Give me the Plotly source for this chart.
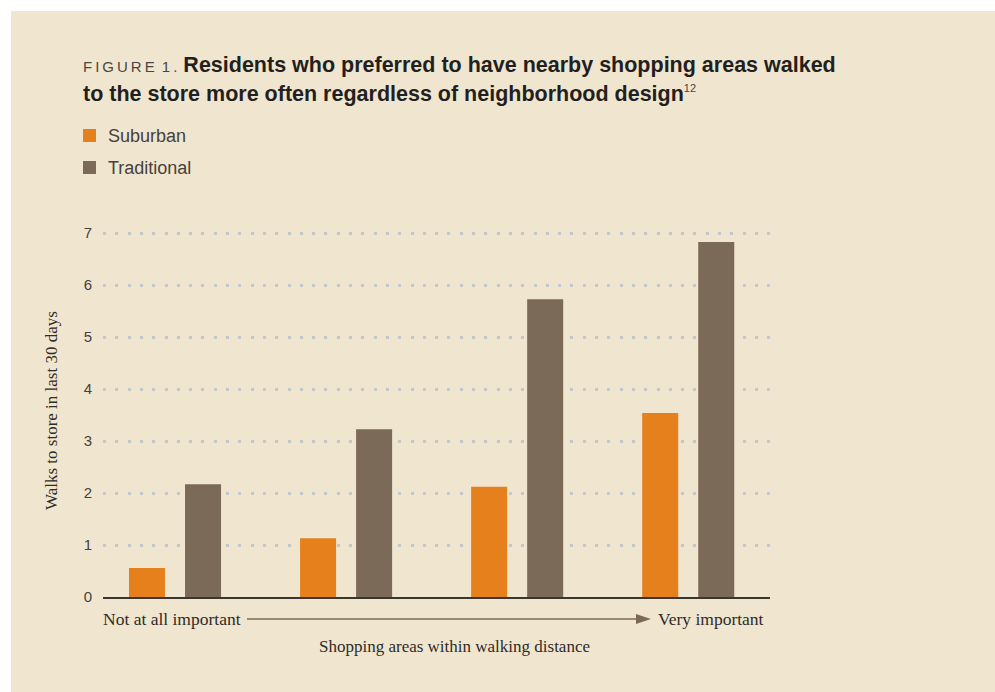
import plotly.graph_objects as go

# ---- data ----
importance_levels = [0, 1, 2, 3]
series_names = ["Suburban", "Traditional"]
suburban = [0.56, 1.13, 2.12, 3.54]
traditional = [2.17, 3.23, 5.73, 6.83]
y_ticks = [0, 1, 2, 3, 4, 5, 6, 7]
x_low_label = "Not at all important"
x_high_label = "Very important"
x_title = "Shopping areas within walking distance"
y_title = "Walks to store in last 30 days"

# ---- style ----
BEIGE = "#f0e6cf"
ORANGE = "#e5801d"
BROWN = "#7b6a57"
GRID = "#c4c8ca"
AXIS = "#3a3632"
SANS = "Liberation Sans, Arial, sans-serif"
SERIF = "Liberation Serif, Times New Roman, serif"

W, H = 995, 692
L, R, T, B = 103, 770, 215, 597  # plot area in pixels
PW, PH = R - L, B - T

def px(x):
    return (x - L) / PW

def py(y):
    return (B - y) / PH

fig = go.Figure()
fig.add_trace(go.Bar(x=importance_levels, y=suburban, name=series_names[0],
                     marker=dict(color=ORANGE, line=dict(width=0)), showlegend=False))
fig.add_trace(go.Bar(x=importance_levels, y=traditional, name=series_names[1],
                     marker=dict(color=BROWN, line=dict(width=0)), showlegend=False))

shapes = [
    # beige card
    dict(type="rect", xref="paper", yref="paper", x0=px(11), x1=px(W + 5),
         y0=py(H + 5), y1=py(11), fillcolor=BEIGE, line=dict(width=0), layer="below"),
    # legend swatches
    dict(type="rect", xref="paper", yref="paper", x0=px(83), x1=px(96),
         y0=py(142), y1=py(129), fillcolor=ORANGE, line=dict(width=0)),
    dict(type="rect", xref="paper", yref="paper", x0=px(83), x1=px(96),
         y0=py(174), y1=py(161), fillcolor=BROWN, line=dict(width=0)),
    # arrow line + head
    dict(type="line", xref="paper", yref="paper", x0=px(247), x1=px(640),
         y0=py(619), y1=py(619), line=dict(color=BROWN, width=1.5)),
    dict(type="path", xref="paper", yref="paper",
         path=f"M {px(636)} {py(614)} L {px(651)} {py(619)} L {px(636)} {py(624)} Z",
         fillcolor=BROWN, line=dict(width=0)),
]

annotations = [
    dict(xref="paper", yref="paper", x=px(81), y=py(65), xanchor="left", yanchor="middle",
         showarrow=False, align="left",
         text="<span style='font-size:15px;color:#4a4643'>F\u2009I\u2009G\u2009U\u2009R\u2009E\u2009 1\u2009.</span> "
              "<b>Residents who preferred to have nearby shopping areas walked</b>",
         font=dict(family=SANS, size=21.5, color="#231f20")),
    dict(xref="paper", yref="paper", x=px(81), y=py(94), xanchor="left", yanchor="middle",
         showarrow=False, align="left",
         text="<b>to the store more often regardless of neighborhood design</b>"
              "<sup><span style='font-size:11px;color:#4a4643'>12</span></sup>",
         font=dict(family=SANS, size=21.5, color="#231f20")),
    dict(xref="paper", yref="paper", x=px(106), y=py(136), xanchor="left", yanchor="middle",
         showarrow=False, text=series_names[0], font=dict(family=SANS, size=18, color="#45413d")),
    dict(xref="paper", yref="paper", x=px(106), y=py(168), xanchor="left", yanchor="middle",
         showarrow=False, text=series_names[1], font=dict(family=SANS, size=18, color="#45413d")),
    dict(xref="paper", yref="paper", x=px(101), y=py(619), xanchor="left", yanchor="middle",
         showarrow=False, text=x_low_label, font=dict(family=SERIF, size=17.5, color="#2f2b28")),
    dict(xref="paper", yref="paper", x=px(766), y=py(619), xanchor="right", yanchor="middle",
         showarrow=False, text=x_high_label, font=dict(family=SERIF, size=17.5, color="#2f2b28")),
    dict(xref="paper", yref="paper", x=px(454), y=py(646), xanchor="center", yanchor="middle",
         showarrow=False, text=x_title, font=dict(family=SERIF, size=17, color="#2f2b28")),
    dict(xref="paper", yref="paper", x=px(51), y=py(411), xanchor="center", yanchor="middle",
         showarrow=False, textangle=-90, text=y_title,
         font=dict(family=SERIF, size=17, color="#2f2b28")),
]

fig.update_layout(
    width=W, height=H,
    margin=dict(l=L, r=W - R, t=T, b=H - B, pad=0),
    paper_bgcolor="white",
    plot_bgcolor="rgba(0,0,0,0)",
    barmode="group",
    bargap=0.345,
    bargroupgap=0.357,
    shapes=shapes,
    annotations=annotations,
    xaxis=dict(range=[-0.421, 3.478], showticklabels=False, ticks="", showgrid=False,
               zeroline=False, showline=True, linecolor=AXIS, linewidth=2, fixedrange=True),
    yaxis=dict(range=[0, 7.35], tickvals=y_ticks, ticktext=[str(v) for v in y_ticks],
               showgrid=True, gridcolor=GRID, gridwidth=3, griddash="3px,9.3px",
               zeroline=False, showline=False, ticks="", ticklabelstandoff=10,
               tickfont=dict(family=SANS, size=15, color="#45413d"), fixedrange=True),
    showlegend=False,
)

fig.write_html("out.html")
